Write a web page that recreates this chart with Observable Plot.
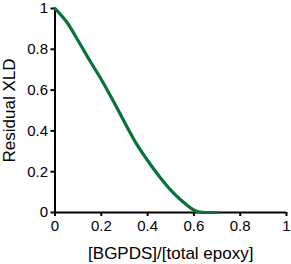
<!DOCTYPE html>
<html>
<head>
<meta charset="utf-8">
<script src="https://cdn.jsdelivr.net/npm/d3@7"></script>
<script src="https://cdn.jsdelivr.net/npm/@observablehq/plot@0.6"></script>
<style>
  html, body { margin: 0; padding: 0; background: #fff; }
  svg { font-family: "Liberation Sans", Arial, sans-serif; }
</style>
</head>
<body>
<div id="chart"></div>
<script>
const ratio = [0, 0.05, 0.1, 0.15, 0.2, 0.25, 0.3, 0.35, 0.4, 0.45, 0.5, 0.55, 0.6, 0.62, 0.65, 0.7];
const residual = [1, 0.935, 0.842, 0.745, 0.652, 0.55, 0.443, 0.34, 0.255, 0.178, 0.11, 0.055, 0.012, 0.003, 0, 0];
const xTicks = [0, 0.2, 0.4, 0.6, 0.8, 1];
const yTicks = [0, 0.2, 0.4, 0.6, 0.8, 1];
const xLabel = "[BGPDS]/[total epoxy]";
const yLabel = "Residual XLD";

const data = ratio.map((r, i) => ({x: r, y: residual[i]}));

const chart = Plot.plot({
  width: 291,
  height: 264,
  marginLeft: 54.5,
  marginRight: 5,
  marginTop: 8,
  marginBottom: 52,
  style: {fontFamily: '"Liberation Sans", Arial, sans-serif', fontSize: "15px", color: "#000", background: "#fff"},
  x: {domain: [0, 1]},
  y: {domain: [0, 1]},
  marks: [
    Plot.axisX({ticks: xTicks, tickFormat: d => String(d), tickSize: 4, tickPadding: 4, strokeWidth: 2, label: null, fontSize: 15}),
    Plot.axisY({ticks: yTicks, tickFormat: d => String(d), tickSize: 4, tickPadding: 3, strokeWidth: 2, label: null, fontSize: 15}),
    Plot.ruleY([0], {stroke: "#000", strokeWidth: 2}),
    Plot.ruleX([0], {stroke: "#000", strokeWidth: 2}),
    Plot.line(data, {x: "x", y: "y", stroke: "#07733a", strokeWidth: 3.2, curve: "monotone-x"}),
    Plot.text([xLabel], {frameAnchor: "bottom", dy: 41, lineAnchor: "middle", textAnchor: "middle", text: d => d, fontSize: 17, fill: "#000"}),
    Plot.text([yLabel], {frameAnchor: "left", dx: -45, rotate: -90, textAnchor: "middle", lineAnchor: "middle", text: d => d, fontSize: 17, fill: "#000"})
  ]
});
document.getElementById("chart").appendChild(chart);
</script>
</body>
</html>
